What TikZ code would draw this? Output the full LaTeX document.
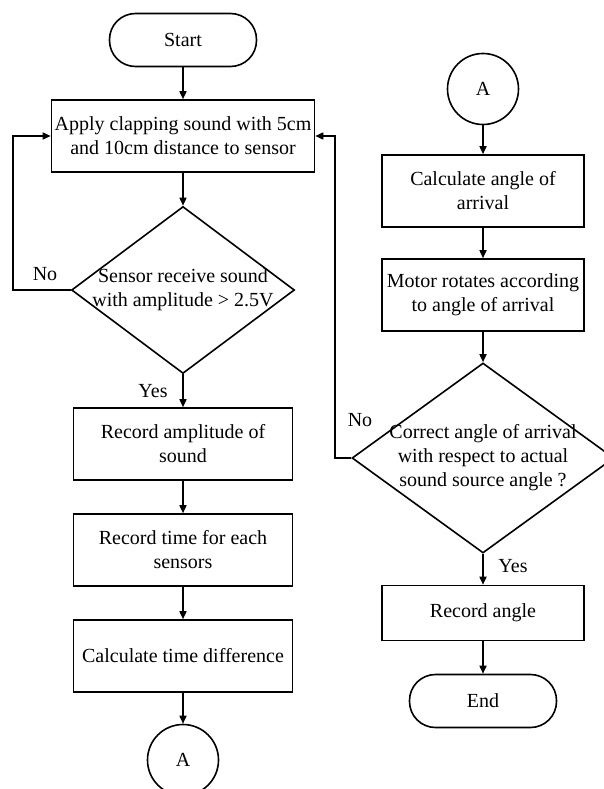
\documentclass[tikz,border=0pt]{standalone}
\usepackage{fontspec}
\setmainfont{Liberation Serif}
\usetikzlibrary{shapes.geometric,arrows.meta}

\begin{document}
\begin{tikzpicture}[x=1pt,y=-1pt]
    \tikzset{
    every node/.style={font=\fontsize{20}{24}\selectfont},
    term/.style={rectangle,rounded corners=26pt,draw,line width=1.6pt,minimum width=147pt,minimum height=53pt},
    proc/.style={rectangle,draw,line width=1.6pt,minimum height=72pt,align=center,inner sep=2pt},
    dec/.style={diamond,draw,line width=1.6pt,inner sep=0pt},
    conn/.style={circle,draw,line width=1.6pt,minimum size=71pt},
    flow/.style={-{Triangle[length=8pt,width=7pt]},line width=1.6pt},
    }
    \useasboundingbox (0,0) rectangle (604,789);

    % left column
    \node[term] (start) at (183,40) {Start};
    \node[proc,minimum width=263pt] (apply) at (183,136) {Apply clapping sound with 5cm\\and 10cm distance to sensor};
    \node[dec,minimum width=223pt,minimum height=167pt] (recv) at (183,290) {};
    \node[align=center] at (recv) {Sensor receive sound\\with amplitude > 2.5V};
    \node[proc,minimum width=219pt] (amp) at (183,444) {Record amplitude of\\sound};
    \node[proc,minimum width=219pt] (time) at (183,550) {Record time for each\\sensors};
    \node[proc,minimum width=219pt] (diff) at (183,656) {Calculate time difference};
    \node[conn] (conA) at (183,760) {A};

    % right column
    \node[conn] (conB) at (483,89) {A};
    \node[proc,minimum width=202pt] (aoa) at (483,191) {Calculate angle of\\arrival};
    \node[proc,minimum width=202pt] (motor) at (483,295) {Motor rotates according\\to angle of arrival};
    \node[dec,minimum width=262pt,minimum height=190pt] (check) at (483,458) {};
    \node[align=center] at (check) {Correct angle of arrival\\with respect to actual\\sound source angle ?};
    \node[proc,minimum width=202pt,minimum height=55pt] (rec) at (483,613) {Record angle};
    \node[term] (stop) at (483,701) {End};

    % labels
    \node at (45,274) {No};
    \node at (153,391) {Yes};
    \node at (360,420) {No};
    \node at (513,566) {Yes};

    \draw[flow] (start) -- (apply);
    \draw[flow] (apply) -- (recv);
    \draw[flow] (recv) -- (amp);
    \draw[flow] (amp) -- (time);
    \draw[flow] (time) -- (diff);
    \draw[flow] (diff) -- (conA);
    \draw[flow] (recv.west) -- ++(-58,0) |- (apply.west);

    \draw[flow] (conB) -- (aoa);
    \draw[flow] (aoa) -- (motor);
    \draw[flow] (motor) -- (check);
    \draw[flow] (check) -- (rec);
    \draw[flow] (rec) -- (stop);
    \draw[flow] (check.west) -- ++(-16,0) |- (apply.east);

\end{tikzpicture}
\end{document}
